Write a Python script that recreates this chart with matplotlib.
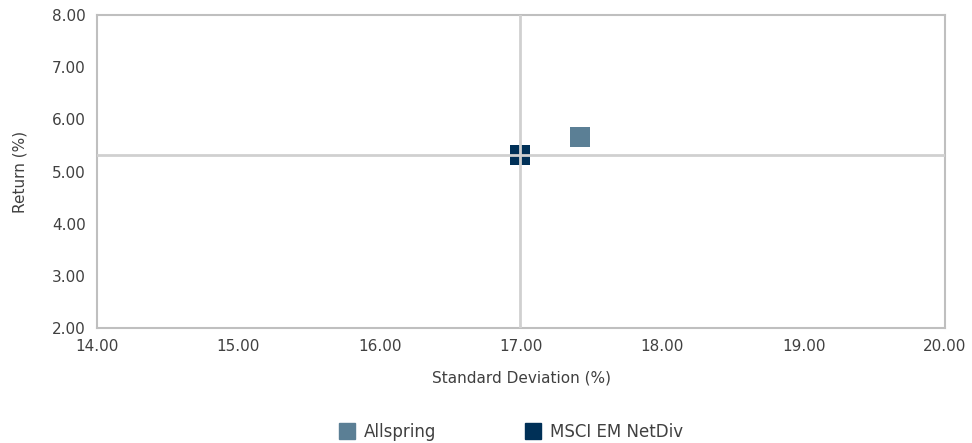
import matplotlib.pyplot as plt
from matplotlib.lines import Line2D

names = ["Allspring", "MSCI EM NetDiv"]
std_dev = [17.42, 16.99]
returns = [5.66, 5.31]
colors = ["#5B7F95", "#003057"]

x_ticks = [14, 15, 16, 17, 18, 19, 20]
y_ticks = [2, 3, 4, 5, 6, 7, 8]

plt.rcParams['font.family'] = ['DejaVu Sans']

fig = plt.figure(figsize=(9.72, 4.43), dpi=100)
ax = fig.add_axes([97 / 972, 1 - 328 / 443, 848 / 972, 313 / 443])

for name, x, y, c in zip(names, std_dev, returns, colors):
    ax.scatter(x, y, marker='s', s=190, color=c, zorder=2, linewidths=0)

# benchmark crosshair
ax.axvline(std_dev[1], color='#D0D0D0', lw=2, zorder=3)
ax.axhline(returns[1], color='#D0D0D0', lw=2, zorder=3)

ax.set_xlim(14, 20)
ax.set_ylim(2, 8)
ax.set_xticks(x_ticks)
ax.set_yticks(y_ticks)
ax.set_xticklabels([f"{v:.2f}" for v in x_ticks])
ax.set_yticklabels([f"{v:.2f}" for v in y_ticks])
ax.tick_params(length=0, labelsize=11, colors='#404040', pad=8)
for s in ax.spines.values():
    s.set_color('#BFBFBF')
    s.set_linewidth(1.5)

ax.set_xlabel("Standard Deviation (%)", fontsize=11, color='#404040', labelpad=12)
ax.set_ylabel("Return (%)", fontsize=11, color='#404040', labelpad=18)

handles = [Line2D([], [], marker='s', ls='', color=c, markersize=12) for c in colors]
fig.legend(handles, names, loc='center left', bbox_to_anchor=(339 / 972, 1 - 432 / 443),
           ncol=2, frameon=False, fontsize=12, columnspacing=5.3,
           handlelength=1, handletextpad=0.5, borderpad=0, borderaxespad=0,
           labelcolor='#404040')

fig.savefig("out.png", dpi=100)
